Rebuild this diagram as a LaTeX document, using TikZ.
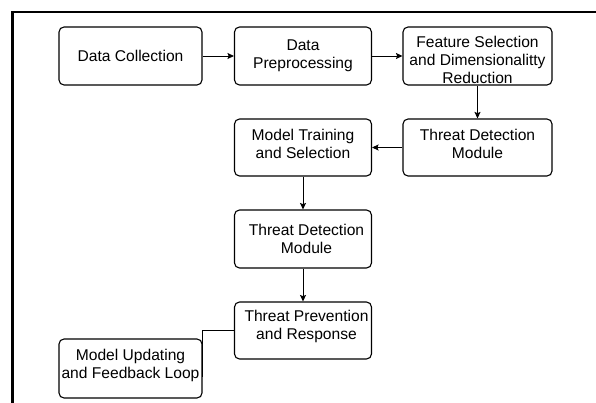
\documentclass[tikz,border=0pt]{standalone}
\usepackage{fontspec}
\setmainfont{Liberation Sans}
\usetikzlibrary{arrows.meta}

\tikzset{
  stage/.style={draw=black, line width=1.1pt, rounded corners=5pt, align=center,
    inner sep=0pt, font=\fontsize{15.6}{18}\selectfont},
  flow/.style={draw=black, line width=0.9pt, -{Stealth[length=6.5pt,width=6pt,inset=1.2pt]}},
  link/.style={draw=black, line width=1.1pt},
  frame/.style={draw=black, line width=2.7pt}
}
% struts that move a stage's text block down (top) or up (bottom)
\newcommand{\pushdown}[1]{\rule{0pt}{#1}}
\newcommand{\pushup}[1]{\rule[-#1]{0pt}{0pt}}

\begin{document}
\begin{tikzpicture}[x=1pt,y=-1pt]
  \useasboundingbox (0,0) rectangle (596,403);
  \clip (0,0) rectangle (596,403);

  % outer frame, open to the right and bottom
  \draw[frame] (610,12) -- (12.3,12) -- (12.3,415);

  % pipeline stages
  \node[stage, minimum width=143pt, minimum height=58pt] (dc)  at (130.5,56)  {Data Collection};
  \node[stage, minimum width=137pt, minimum height=58pt] (dp)  at (303,56)    {Data\\Preprocessing};
  \node[stage, minimum width=149pt, minimum height=58pt] (fs)  at (477.5,56)  {\pushdown{20pt}Feature Selection\\and Dimensionalitty\\Reduction};
  \node[stage, minimum width=149pt, minimum height=57pt] (td1) at (477.5,147.5) {Threat Detection\\Module\pushup{8pt}};
  \node[stage, minimum width=137pt, minimum height=57pt] (mt)  at (303,147.5) {Model Training\\and Selection\pushup{8pt}};
  \node[stage, minimum width=137pt, minimum height=58pt] (td2) at (303,239)   {\hspace*{7pt}Threat Detection\\\hspace*{7pt}Module};
  \node[stage, minimum width=137pt, minimum height=57pt] (tp)  at (303,330.5) {\hspace*{7pt}Threat Prevention\\\hspace*{7pt}and Response\pushup{11pt}};
  \node[stage, minimum width=143pt, minimum height=59pt] (mu)  at (130.5,368.5) {Model Updating\\and Feedback Loop\pushup{9pt}};

  % flow between stages
  \draw[flow] (dc) -- (dp);
  \draw[flow] (dp) -- (fs);
  \draw[flow] (fs) -- (td1);
  \draw[flow] (td1) -- (mt);
  \draw[flow] (mt) -- (td2);
  \draw[flow] (td2) -- (tp);

  % feedback link into the updating stage
  \coordinate (fbend) at (202.7,377);
  \draw[link] (tp.west) -| (fbend);
\end{tikzpicture}
\end{document}
